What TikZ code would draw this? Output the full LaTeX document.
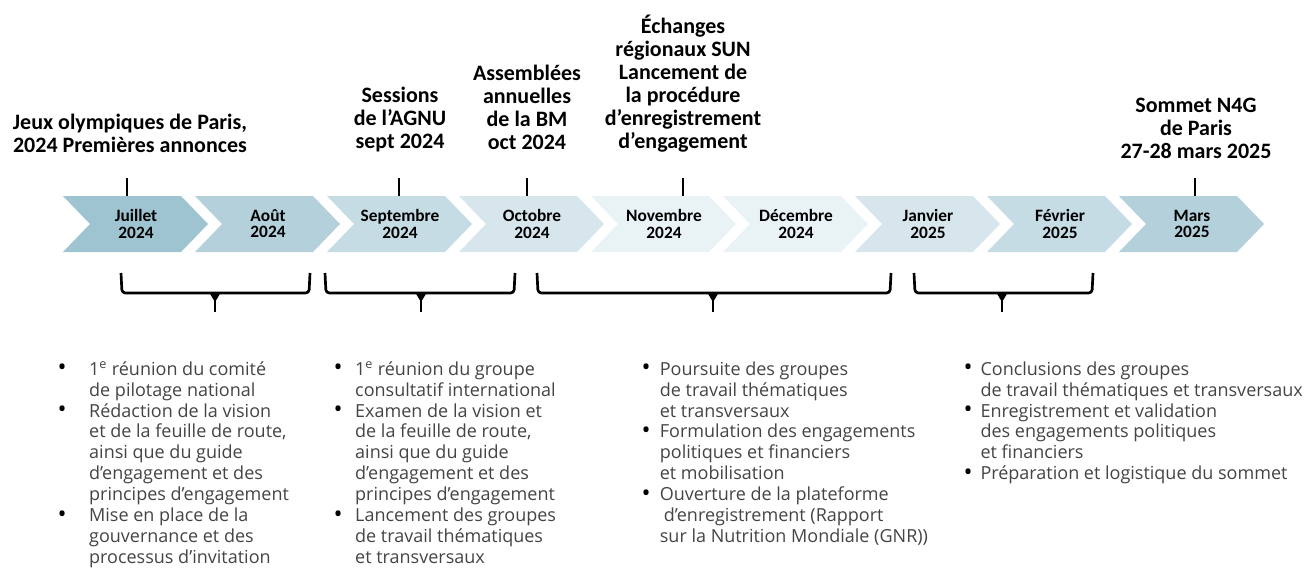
\documentclass[tikz,border=0pt]{standalone}
\usepackage{fontspec}
\setmainfont{Open Sans}
\newfontfamily\titrefont{Carlito}

\definecolor{moisA}{RGB}{158,195,209}
\definecolor{moisB}{RGB}{179,208,219}
\definecolor{moisC}{RGB}{197,220,228}
\definecolor{moisD}{RGB}{214,230,236}
\definecolor{moisE}{RGB}{233,242,245}
\definecolor{texte}{RGB}{68,68,68}

\newcommand\puce{{\color{black}\fontsize{18}{15}\selectfont\raisebox{-0.5pt}{\textbullet}}}

\tikzset{every picture/.style={line width=0.75pt}}
\tikzset{
  mois/.style={font=\titrefont\bfseries\fontsize{13}{12.2}\selectfont, align=center, minimum height=42pt, inner sep=0pt},
  evt/.style={font=\titrefont\bfseries\fontsize{16.5}{17.2}\selectfont, align=center, anchor=south, inner sep=0pt},
  repere/.style={line width=1.2pt},
  accolade/.style={line width=2pt, line join=round, rounded corners=2.5pt},
  liste/.style={font=\fontsize{13.5}{15.7}\selectfont, text=texte, anchor=north west, inner sep=0pt},
}

\begin{document}
\begin{tikzpicture}[x=0.75pt,y=0.75pt,yscale=-1,xscale=1]
\useasboundingbox (0,0) rectangle (1309,568);

%Shape: Chevrons of the months
\foreach \i/\c/\m/\a in {0/moisA/Juillet/2024, 1/moisB/Août/2024, 2/moisC/Septembre/2024, 3/moisD/Octobre/2024, 4/moisE/Novembre/2024, 5/moisE/Décembre/2024, 6/moisD/Janvier/2025, 7/moisC/Février/2025, 8/moisB/Mars/2025}{
  \fill[\c] ({63+\i*132},196) -- ++(118,0) -- ++(27,28) -- ++(-27,28) -- ++(-118,0) -- ++(27,-28) -- cycle;
  \node[mois] (m\i) at ({136+\i*132},224) {\m\\\a};
}

% Text Node
\node[evt] (ev0) at (130,160) {Jeux olympiques de Paris,\\2024 Premières annonces\strut};
% Text Node
\node[evt] (ev1) at (400,156) {Sessions\\de l’AGNU\\sept 2024\strut};
% Text Node
\node[evt] (ev2) at (527,157) {Assemblées\\annuelles\\de la BM\\oct 2024\strut};
% Text Node
\node[evt] (ev3) at (683,156) {Échanges\\régionaux SUN\\Lancement de\\la procédure\\d’enregistrement\\d’engagement\strut};
% Text Node
\node[evt] (ev4) at (1196,166) {Sommet N4G\\de Paris\\27-28 mars 2025\strut};

%Straight Lines: ticks
\coordinate (t0) at (127,178);
\coordinate (t1) at (399,178);
\coordinate (t2) at (527,178);
\coordinate (t3) at (683,178);
\coordinate (t4) at (1195,178);
\draw[repere] (t0) -- (t0 |- m0.north);
\draw[repere] (t1) -- (t1 |- m2.north);
\draw[repere] (t2) -- (t2 |- m3.north);
\draw[repere] (t3) -- (t3 |- m4.north);
\draw[repere] (t4) -- (t4 |- m8.north);

%Shape: Braces
\foreach \g/\c/\d in {121/215/310, 325/421/515, 537/713/891, 914/1002/1093}{
  \draw[accolade] (\g,273) -- ({\g+1},293) -- ({\d-1},293) -- (\d,273);
  \draw[accolade] (\c,293) -- (\c,312);
  \fill ({\c-6},292) -- ({\c+6},292) -- ({\c+1.3},300) -- ({\c-1.3},300) -- cycle;
}

% Text Node
\node[liste] (l0) at (57,360) {\begin{tabular}{@{}l@{\hspace{17pt}}l@{}}
\puce & 1\textsuperscript{e} réunion du comité\\
 & de pilotage national\\
\puce & Rédaction de la vision\\
 & et de la feuille de route,\\
 & ainsi que du guide\\
 & d’engagement et des\\
 & principes d’engagement\\
\puce & Mise en place de la\\
 & gouvernance et des\\
 & processus d’invitation
\end{tabular}};
% Text Node
\node[liste] (l1) at (333,360) {\begin{tabular}{@{}l@{\hspace{9.5pt}}l@{}}
\puce & 1\textsuperscript{e} réunion du groupe\\
 & consultatif international\\
\puce & Examen de la vision et\\
 & de la feuille de route,\\
 & ainsi que du guide\\
 & d’engagement et des\\
 & principes d’engagement\\
\puce & Lancement des groupes\\
 & de travail thématiques\\
 & et transversaux
\end{tabular}};
% Text Node
\node[liste] (l2) at (641,360) {\begin{tabular}{@{}l@{\hspace{7pt}}l@{}}
\puce & Poursuite des groupes\\
 & de travail thématiques\\
 & et transversaux\\
\puce & Formulation des engagements\\
 & politiques et financiers\\
 & et mobilisation\\
\puce & Ouverture de la plateforme\\
 & \hspace{3pt}d’enregistrement (Rapport\\
 & sur la Nutrition Mondiale (GNR))
\end{tabular}};
% Text Node
\node[liste] (l3) at (963,360) {\begin{tabular}{@{}l@{\hspace{6pt}}l@{}}
\puce & Conclusions des groupes\\
 & de travail thématiques et transversaux\\
\puce & Enregistrement et validation\\
 & des engagements politiques\\
 & et financiers\\
\puce & Préparation et logistique du sommet
\end{tabular}};

\end{tikzpicture}
\end{document}
